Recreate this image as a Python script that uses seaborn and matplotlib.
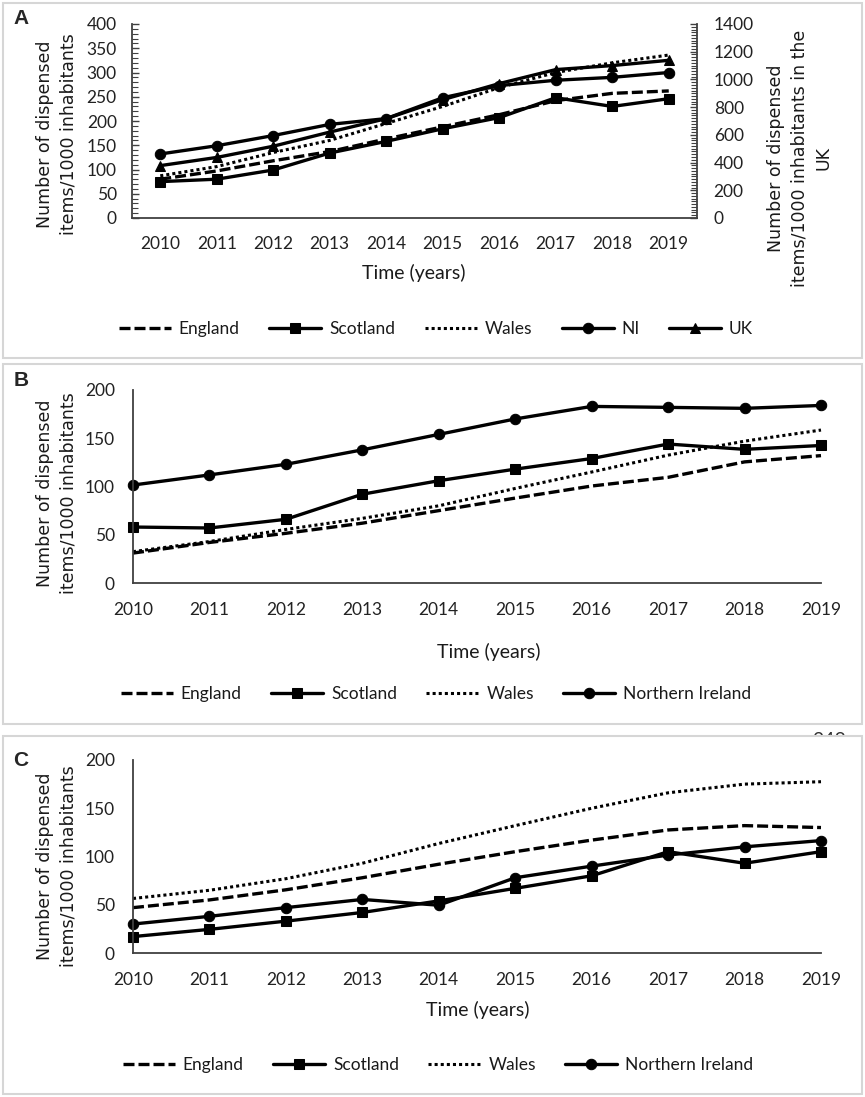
import matplotlib
matplotlib.use("Agg")
import matplotlib.pyplot as plt
import matplotlib.ticker as mticker
from matplotlib.patches import Rectangle
import seaborn as sns
import numpy as np

# years on every panel
years = [2010, 2011, 2012, 2013, 2014, 2015, 2016, 2017, 2018, 2019]

# panel A (UK on the right axis)
a_england = [80, 97, 118, 137, 163, 188, 213, 242, 257, 262]
a_scotland = [75, 80, 99, 134, 158, 184, 207, 248, 230, 246]
a_wales = [87, 106, 135, 160, 195, 230, 269, 300, 320, 336]
a_ni = [132, 149, 170, 193, 205, 248, 273, 284, 290, 300]
a_uk = [378, 437, 518, 620, 717, 854, 970, 1071, 1100, 1138]

# panel B
b_england = [31, 42, 51.5, 62, 75, 88, 100.5, 109.5, 125.5, 132]
b_scotland = [58, 57, 66, 92, 106, 118, 129, 144, 138.5, 142.5]
b_wales = [32.5, 43, 55.5, 67, 80, 98, 115, 132.5, 147, 158.5]
b_ni = [101.5, 112, 123, 138, 154, 170, 183, 182, 181, 184]

# panel C
c_england = [47, 55, 65.5, 78, 92, 105, 117, 127.5, 132, 130]
c_scotland = [17, 24.5, 33, 42, 54, 67, 80, 105, 93, 105]
c_wales = [56.5, 65, 77, 93, 113.5, 132, 150, 166, 175, 177.5]
c_ni = [30, 38, 47, 55.5, 49.5, 78, 90, 101.5, 110, 116.5]

ylab = "Number of dispensed\nitems/1000 inhabitants"
ylab_uk = "Number of dispensed\nitems/1000 inhabitants in the\nUK"

sns.set_style("white")
plt.rcParams['font.family'] = ['Lato', 'DejaVu Sans']

W, H = 865, 1097
fig = plt.figure(figsize=(W / 100, H / 100), dpi=100)


def box(x0, y0, x1, y1):
    return [x0 / W, 1 - y1 / H, (x1 - x0) / W, (y1 - y0) / H]


axis_col = '#404040'
tick_size = 12.5
style = {
    'England': dict(linestyle=(0, (3.3, 1.2)), lw=2.4),
    'Scotland': dict(linestyle='-', lw=2.4, marker='s', markersize=7.5),
    'Wales': dict(linestyle=(0, (1, 1)), lw=2.2),
    'NI': dict(linestyle='-', lw=2.4, marker='o', markersize=7.5),
    'Northern Ireland': dict(linestyle='-', lw=2.4, marker='o', markersize=7.5),
    'UK': dict(linestyle='-', lw=2.4, marker='^', markersize=7.5),
}


def draw(ax, name, vals):
    sns.lineplot(x=years, y=vals, ax=ax, color='black', label=name,
                 markeredgecolor='black', **style[name])


def style_axes(ax, xpad):
    for s in ['top', 'right']:
        ax.spines[s].set_visible(False)
    for s in ['left', 'bottom']:
        ax.spines[s].set_color(axis_col)
        ax.spines[s].set_linewidth(1.3)
    ax.tick_params(which='both', direction='in', color=axis_col, width=1.0,
                   labelsize=tick_size, labelcolor='#222222')
    ax.tick_params(which='major', length=5)
    ax.tick_params(which='minor', length=4.5)
    ax.tick_params(axis='x', pad=xpad)
    ax.tick_params(axis='y', pad=11)
    ax.set_xlabel('')
    ax.set_ylabel('')


# panel borders and the cut page number
fig.text(829 / W, 1 - 741 / H, "248", fontsize=14, color='#333333',
         ha='center', va='center', zorder=-3)
for y0, y1 in [(3, 358), (364, 724), (736, 1094)]:
    fig.add_artist(Rectangle((3 / W, 1 - y1 / H), 859 / W, (y1 - y0) / H,
                             transform=fig.transFigure, facecolor='white',
                             edgecolor='#d6d6d6', lw=1.5, zorder=-1))

# ---- Panel A ----
axA = fig.add_axes(box(132, 24, 697, 218))
axA2 = axA.twinx()
draw(axA, 'England', a_england)
draw(axA, 'Scotland', a_scotland)
draw(axA, 'Wales', a_wales)
draw(axA, 'NI', a_ni)
draw(axA2, 'UK', a_uk)
axA.set_xlim(2009.5, 2019.5)
axA.set_ylim(0, 400)
axA2.set_ylim(0, 1400)
axA.set_xticks(years)
axA.xaxis.set_minor_locator(mticker.MultipleLocator(0.5))
axA.yaxis.set_major_locator(mticker.MultipleLocator(50))
axA.yaxis.set_minor_locator(mticker.MultipleLocator(10))
axA2.yaxis.set_major_locator(mticker.MultipleLocator(200))
axA2.yaxis.set_minor_locator(mticker.MultipleLocator(20))
style_axes(axA, 13)
axA.tick_params(axis='x', which='minor', length=5)
axA.tick_params(axis='y', which='minor', width=0.8)
for s in ['top', 'left', 'bottom']:
    axA2.spines[s].set_visible(False)
axA2.spines['right'].set_color(axis_col)
axA2.spines['right'].set_linewidth(1.3)
axA2.tick_params(which='both', direction='in', color=axis_col, width=1.0,
                 labelsize=tick_size, labelcolor='#222222', pad=12)
axA2.tick_params(which='major', length=5)
axA2.tick_params(which='minor', length=4.5, width=0.8)
axA2.set_ylabel('')
hA, lA = axA.get_legend_handles_labels()
h2, l2 = axA2.get_legend_handles_labels()
axA.get_legend().remove()
axA2.get_legend().remove()

# ---- Panel B ----
axB = fig.add_axes(box(133, 390, 821, 583))
draw(axB, 'England', b_england)
draw(axB, 'Scotland', b_scotland)
draw(axB, 'Wales', b_wales)
draw(axB, 'Northern Ireland', b_ni)
hB, lB = axB.get_legend_handles_labels()
axB.get_legend().remove()

# ---- Panel C ----
axC = fig.add_axes(box(133, 760, 821, 953))
draw(axC, 'England', c_england)
draw(axC, 'Scotland', c_scotland)
draw(axC, 'Wales', c_wales)
draw(axC, 'Northern Ireland', c_ni)
hC, lC = axC.get_legend_handles_labels()
axC.get_legend().remove()

for ax in [axB, axC]:
    ax.set_xlim(2010, 2019)
    ax.set_ylim(0, 200)
    ax.set_xticks(years)
    ax.xaxis.set_minor_locator(mticker.MultipleLocator(0.2))
    ax.yaxis.set_major_locator(mticker.MultipleLocator(50))
    ax.yaxis.set_minor_locator(mticker.MultipleLocator(10))
    style_axes(ax, 14)
    ax.tick_params(axis='y', pad=13)
    for ln in ax.lines:
        ln.set_clip_on(False)

# axis titles
lab_kw = dict(fontsize=12.5, rotation=90, ha='center', va='center',
              linespacing=1.4, multialignment='center', family='DejaVu Sans',
              color='#1a1a1a')
fig.text(57 / W, 1 - 134 / H, ylab, **lab_kw)
fig.text(800 / W, 1 - 158 / H, ylab_uk, **lab_kw)
fig.text(57 / W, 1 - 493 / H, ylab, **lab_kw)
fig.text(57 / W, 1 - 866 / H, ylab, **lab_kw)

t_kw = dict(fontsize=14, ha='center', va='center', color='#1a1a1a')
fig.text(414 / W, 1 - 273 / H, "Time (years)", **t_kw)
fig.text(489 / W, 1 - 652 / H, "Time (years)", **t_kw)
fig.text(478 / W, 1 - 1010 / H, "Time (years)", **t_kw)

p_kw = dict(fontsize=15, fontweight='bold', ha='center', va='center',
            family='Liberation Sans')
fig.text(21 / W, 1 - 19 / H, "A", **p_kw)
fig.text(21 / W, 1 - 380 / H, "B", **p_kw)
fig.text(21 / W, 1 - 760 / H, "C", **p_kw)

leg_kw = dict(loc='center', frameon=False, fontsize=12.5, handlelength=3.0,
              handletextpad=0.45, columnspacing=1.7, labelcolor='#1a1a1a')
fig.legend(hA + h2, lA + l2, bbox_to_anchor=(436 / W, 1 - 329 / H), ncol=5, **leg_kw)
fig.legend(hB, lB, bbox_to_anchor=(436 / W, 1 - 694 / H), ncol=4, **leg_kw)
fig.legend(hC, lC, bbox_to_anchor=(438 / W, 1 - 1065 / H), ncol=4, **leg_kw)

fig.savefig("out.png", dpi=100, facecolor='white')
